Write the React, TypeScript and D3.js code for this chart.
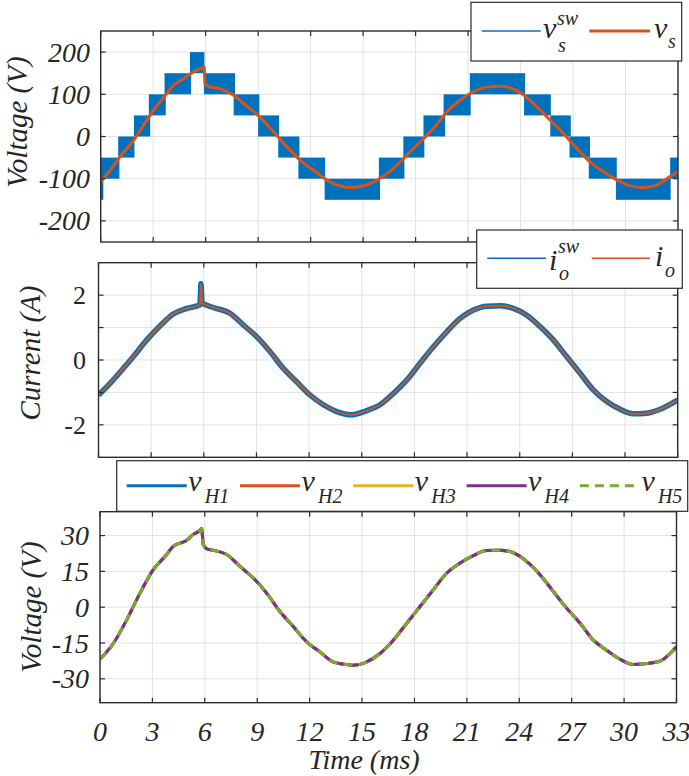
import React from "react";
import * as d3 from "d3";

// ---------- data ----------
const timeTicks = [0, 3, 6, 9, 12, 15, 18, 21, 24, 27, 30, 33];
const vsTicks = [-200, -100, 0, 100, 200];
const ioTicks = [-2, -1, 0, 1, 2];
const ioTickLabels = ["-2", "", "0", "", "2"];
const vhTicks = [-30, -15, 0, 15, 30];

// switched staircase voltage v_s^sw (PWM bands between adjacent levels)
const swStart = [0, 0, 1.0, 1.9, 2.75, 3.65, 5.1, 5.9, 7.6, 9.0, 10.15, 11.3, 12.8, 15.9, 17.3, 18.45, 19.6, 21.1, 24.2, 25.7, 26.8, 27.9, 29.45, 32.55];
const swEnd = [0.15, 1.07, 1.93, 2.83, 3.72, 5.17, 5.93, 7.68, 9.07, 10.2, 11.36, 12.83, 15.97, 17.36, 18.5, 19.69, 21.15, 24.26, 25.73, 26.87, 27.97, 29.5, 32.58, 33];
const swLow = [-150, -100, -50, 0, 50, 100, 150, 100, 50, 0, -50, -100, -150, -100, -50, 0, 50, 100, 50, 0, -50, -100, -150, -100];
const swHigh = [-100, -50, 0, 50, 100, 150, 200, 150, 100, 50, 0, -50, -100, -50, 0, 50, 100, 150, 100, 50, 0, -50, -100, -50];

// filtered voltage v_s
const vsTime = [0, 0.54, 1.1, 1.88, 2.45, 3.02, 3.78, 4.16, 4.73, 5.3, 5.78, 5.91, 5.96, 6.17, 6.83, 7.6, 8.35, 9.1, 9.88, 10.64, 11.4, 12.17, 12.92, 13.5, 14.3, 15.2, 15.97, 16.73, 17.5, 18.26, 19.02, 19.78, 20.54, 21.3, 22.07, 22.83, 23.59, 24.16, 24.93, 25.69, 26.45, 27.21, 27.97, 28.73, 29.5, 30.26, 31.02, 31.78, 32.54, 33];
const vsValue = [-107, -80, -48, -9, 27, 62, 102, 121, 137, 153, 162, 165, 125, 119, 113, 98, 72, 46, 11, -24, -56, -80, -103, -115, -121, -115, -99, -76, -44, -13, 19, 58, 86, 106, 117, 119, 113, 99, 70, 39, 7, -28, -60, -83, -103, -117, -121, -115, -95, -83];

// output current i_o (i_o^sw is the same trace with ripple band)
const ioTime = [0, 0.66, 1.41, 1.98, 2.75, 3.5, 4.26, 5.03, 5.78, 5.84, 5.9, 6.54, 7.49, 8.25, 9.01, 9.77, 10.53, 11.29, 12.05, 12.81, 13.57, 14.4, 15.28, 16.04, 16.8, 17.56, 18.32, 19.08, 19.84, 20.6, 21.36, 22.12, 22.88, 23.64, 24.4, 25.16, 25.91, 26.68, 27.44, 28.19, 28.96, 29.72, 30.47, 31.24, 32.0, 32.75, 33];
const ioValue = [-1.08, -0.72, -0.26, 0.1, 0.62, 1.05, 1.42, 1.59, 1.7, 2.35, 1.76, 1.62, 1.44, 1.08, 0.72, 0.26, -0.26, -0.67, -1.08, -1.38, -1.59, -1.69, -1.56, -1.38, -1.03, -0.62, -0.1, 0.41, 0.87, 1.28, 1.54, 1.66, 1.67, 1.59, 1.38, 1.03, 0.62, 0.1, -0.41, -0.92, -1.28, -1.52, -1.66, -1.64, -1.52, -1.31, -1.23];

// H-bridge voltages v_H1..v_H5 (all overlap)
const vhTime = [0, 0.76, 1.53, 2.29, 3.05, 3.82, 4.2, 4.96, 5.34, 5.72, 5.82, 5.91, 6.11, 6.68, 7.25, 8.01, 8.78, 9.54, 10.3, 11.06, 11.83, 12.59, 13.35, 14.12, 14.5, 15.27, 16.03, 16.79, 17.56, 18.32, 19.08, 19.85, 20.61, 21.37, 22.13, 22.9, 23.66, 24.42, 25.19, 25.95, 26.71, 27.48, 28.24, 29.0, 29.77, 30.53, 31.29, 32.05, 32.82, 33];
const vhValue = [-21.8, -15.2, -5.3, 5.9, 15.7, 22.1, 25.6, 28, 30.5, 32.2, 33, 26.3, 24.4, 23.5, 22.1, 17.1, 12.2, 5.9, -1.8, -8.1, -14.5, -18.7, -22.9, -24.0, -24.3, -22.9, -19.4, -13.8, -6.7, 0.3, 7.3, 14.3, 18.5, 21.6, 23.7, 23.9, 22.8, 19.2, 13.6, 6.6, -0.4, -6.7, -13.8, -18, -21.8, -24, -23.6, -22.6, -18, -16.6];
const vhNames = ["H1", "H2", "H3", "H4", "H5"];
const vhColors = ["#0072BD", "#D95319", "#EDB120", "#7E2F8E", "#77AC30"];

// ---------- styles ----------
const FONT = "'Liberation Serif', 'Times New Roman', Times, Tinos, 'Nimbus Roman', 'Nimbus Roman No9 L', 'FreeSerif', 'Noto Serif', 'DejaVu Serif', 'Noto Serif CJK SC', serif";
const AXC = "#2b2b2b";
const GRID = "#e2e2e2";

type PanelProps = {
  id: string;
  left: number; right: number; top: number; bottom: number;
  yDomain: [number, number];
  yTicks: number[];
  yTickLabels: string[];
  tickItalic: boolean;
  tickFont: number;
  tickRight: number;
  yLabel: string;
  yLabelX: number;
  yLabelY: number;
  showX: boolean;
  draw: (x: d3.ScaleLinear<number, number>, y: d3.ScaleLinear<number, number>) => React.ReactNode;
};

const txt = (size: number, italic = true): React.CSSProperties => ({
  fontFamily: FONT,
  fontStyle: italic ? "italic" : "normal",
  fontSize: size,
});

function Panel(p: PanelProps) {
  const x = d3.scaleLinear().domain([0, 33]).range([p.left, p.right]);
  const y = d3.scaleLinear().domain(p.yDomain).range([p.bottom, p.top]);
  const tl = 5;
  return (
    <g>
      <defs>
        <clipPath id={p.id}>
          <rect x={p.left} y={p.top} width={p.right - p.left} height={p.bottom - p.top} />
        </clipPath>
      </defs>
      <rect x={p.left} y={p.top} width={p.right - p.left} height={p.bottom - p.top} fill="#fff" />
      {timeTicks.map((t) => (
        <line key={"gx" + t} x1={x(t)} x2={x(t)} y1={p.top} y2={p.bottom} stroke={GRID} strokeWidth={1} />
      ))}
      {p.yTicks.map((v) => (
        <line key={"gy" + v} x1={p.left} x2={p.right} y1={y(v)} y2={y(v)} stroke={GRID} strokeWidth={1} />
      ))}
      <g clipPath={`url(#${p.id})`}>{p.draw(x, y)}</g>
      {timeTicks.map((t) => (
        <g key={"tx" + t}>
          <line x1={x(t)} x2={x(t)} y1={p.bottom} y2={p.bottom - tl} stroke={AXC} strokeWidth={1.2} />
          <line x1={x(t)} x2={x(t)} y1={p.top} y2={p.top + tl} stroke={AXC} strokeWidth={1.2} />
        </g>
      ))}
      {p.yTicks.map((v) => (
        <g key={"ty" + v}>
          <line x1={p.left} x2={p.left + tl} y1={y(v)} y2={y(v)} stroke={AXC} strokeWidth={1.2} />
          <line x1={p.right} x2={p.right - tl} y1={y(v)} y2={y(v)} stroke={AXC} strokeWidth={1.2} />
        </g>
      ))}
      <rect x={p.left} y={p.top} width={p.right - p.left} height={p.bottom - p.top} fill="none" stroke={AXC} strokeWidth={1.4} />
      {p.yTicks.map((v, i) => (
        <text key={"yl" + v} x={p.tickRight} y={y(v) + p.tickFont * 0.34} textAnchor="end"
          style={txt(p.tickFont, p.tickItalic)} fill="#262626">
          {p.yTickLabels[i]}
        </text>
      ))}
      {p.showX && timeTicks.map((t) => (
        <text key={"xl" + t} x={x(t)} y={741} textAnchor="middle" style={txt(28)} fill="#262626">
          {String(t)}
        </text>
      ))}
      <text transform={`translate(${p.yLabelX},${p.yLabelY}) rotate(-90)`} textAnchor="middle"
        style={txt(29)} fill="#262626">
        {p.yLabel}
      </text>
    </g>
  );
}

function ScriptLabel({ x, base, baseY, sup, supY, sub, subY, supX, subX }: any) {
  return (
    <g fill="#262626">
      <text x={x} y={baseY} style={txt(30)}>{base}</text>
      {sup && <text x={supX} y={supY} style={txt(20)}>{sup}</text>}
      {sub && <text x={subX} y={subY} style={txt(20)}>{sub}</text>}
    </g>
  );
}

export default function App() {
  const line = (xs: number[], ys: number[], x: any, y: any) =>
    d3.line<number>().x((_, i) => x(xs[i])).y((_, i) => y(ys[i])).curve(d3.curveMonotoneX)(xs) || "";

  return (
    <svg width={689} height={776} style={{ position: "absolute", left: 0, top: 0, background: "#fff" }}>
      <rect width={689} height={776} fill="#fff" />
      <Panel id="c1" left={100.7} right={678} top={31} bottom={242} yDomain={[-250, 250]} yTicks={vsTicks}
        yTickLabels={vsTicks.map(String)} tickItalic tickFont={28} tickRight={90}
        yLabel="Voltage (V)" yLabelX={27} yLabelY={122} showX={false}
        draw={(x, y) => (
          <g>
            {swStart.map((s, i) => (
              <rect key={i} x={x(s)} width={x(swEnd[i]) - x(s)} y={y(swHigh[i])} height={y(swLow[i]) - y(swHigh[i])} fill="#0072BD" />
            ))}
            <path d={line(vsTime, vsValue, x, y)} fill="none" stroke="#D95319" strokeWidth={3} strokeLinejoin="round" />
          </g>
        )} />
      <Panel id="c2" left={98.5} right={677.7} top={262.7} bottom={457.3} yDomain={[-3, 3]} yTicks={ioTicks}
        yTickLabels={ioTickLabels} tickItalic={false} tickFont={26} tickRight={86}
        yLabel="Current (A)" yLabelX={40} yLabelY={353} showX={false}
        draw={(x, y) => (
          <g>
            <path d={line(ioTime, ioValue, x, y)} fill="none" stroke="#0072BD" strokeWidth={5.5} strokeLinejoin="round" />
            <path d={line(ioTime, ioValue, x, y)} fill="none" stroke="#D95319" strokeWidth={2} strokeLinejoin="round" />
          </g>
        )} />
      <Panel id="c3" left={100} right={676.5} top={511.7} bottom={702.7} yDomain={[-40, 40]} yTicks={vhTicks}
        yTickLabels={vhTicks.map(String)} tickItalic tickFont={28} tickRight={89}
        yLabel="Voltage (V)" yLabelX={41} yLabelY={607} showX={true}
        draw={(x, y) => (
          <g>
            {vhNames.map((n, i) => (
              <path key={n} d={line(vhTime, vhValue, x, y)} fill="none" stroke={vhColors[i]} strokeWidth={3}
                strokeDasharray={i === 4 ? "9,6" : undefined} strokeLinejoin="round" />
            ))}
          </g>
        )} />
      <text x={364} y={769} textAnchor="middle" style={txt(28)} fill="#262626">Time (ms)</text>

      {/* legend 1 */}
      <g>
        <rect x={471} y={2.3} width={210.7} height={58.7} fill="#fff" stroke={AXC} strokeWidth={1.2} />
        <line x1={481.7} x2={540.7} y1={31} y2={31} stroke="#0072BD" strokeWidth={1.5} />
        <ScriptLabel x={543} base="v" baseY={38} sup="sw" supX={557} supY={25} sub="s" subX={558} subY={52} />
        <line x1={589.3} x2={650} y1={31} y2={31} stroke="#D95319" strokeWidth={3} />
        <ScriptLabel x={654} base="v" baseY={38} sub="s" subX={668} subY={48} />
      </g>
      {/* legend 2 */}
      <g>
        <rect x={476.7} y={230} width={205.6} height={58.3} fill="#fff" stroke={AXC} strokeWidth={1.2} />
        <line x1={487.3} x2={546} y1={258.3} y2={258.3} stroke="#0072BD" strokeWidth={1.5} />
        <ScriptLabel x={549} base="i" baseY={270} sup="sw" supX={558} supY={253} sub="o" subX={559} subY={280} />
        <line x1={591.7} x2={650} y1={258.3} y2={258.3} stroke="#D95319" strokeWidth={1.5} />
        <ScriptLabel x={655} base="i" baseY={266} sub="o" subX={665} subY={277} />
      </g>
      {/* legend 3 */}
      <g>
        <rect x={116.7} y={460.7} width={571} height={50.6} fill="#fff" stroke={AXC} strokeWidth={1.2} />
        {vhNames.map((n, i) => {
          const ox = 126.7 + i * 113.3;
          return (
            <g key={n}>
              <line x1={ox} x2={ox + 60} y1={485.7} y2={485.7} stroke={vhColors[i]} strokeWidth={3}
                strokeDasharray={i === 4 ? "9,6" : undefined} />
              <ScriptLabel x={ox + 61.5} base="v" baseY={491} sub={n} subX={ox + 78} subY={503} />
            </g>
          );
        })}
      </g>
    </svg>
  );
}
